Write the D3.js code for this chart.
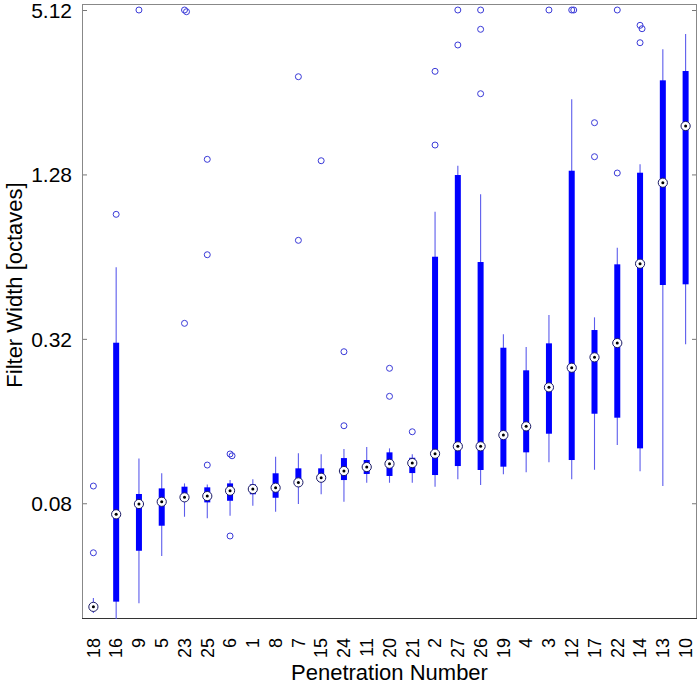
<!DOCTYPE html>
<html>
<head>
<meta charset="utf-8">
<script src="https://cdnjs.cloudflare.com/ajax/libs/d3/7.8.5/d3.min.js"></script>
<style>
    body { margin: 0; background: #fff; }
    svg { display: block; font-family: "Liberation Sans", Arial, sans-serif; }
</style>
</head>
<body>
<div id="svg_div"><svg width="700" height="685"></svg></div>
<script>
// Penetration numbers, in plotted order
var labels = ["18","16","9","5","23","25","6","1","8","7","15","24","11","20","21","2","27","26","19","4","3","12","17","22","14","13","10"];

// Box statistics (filter width, octaves)
var whiskerLo = [0.0317,0.028,0.0344,0.0513,0.0714,0.0705,0.0720,0.0784,0.0745,0.0795,0.0863,0.0810,0.0951,0.0951,0.0951,0.0920,0.0979,0.0933,0.1021,0.1038,0.1130,0.0979,0.1061,0.1307,0.1047,0.0925,0.3055];
var q1 = [0.0328,0.0349,0.0536,0.0662,0.0822,0.0806,0.0817,0.0863,0.0838,0.0925,0.0959,0.0973,0.1024,0.1007,0.1032,0.1015,0.1095,0.1059,0.1089,0.1229,0.1438,0.1152,0.1702,0.1646,0.1271,0.5038,0.5068];
var medians = [0.0334,0.0729,0.0795,0.0810,0.0841,0.0850,0.0889,0.0902,0.0912,0.0954,0.0992,0.1050,0.1086,0.1116,0.1123,0.1215,0.1293,0.1293,0.1422,0.1530,0.2126,0.2508,0.2738,0.3089,0.6029,1.1936,1.9252];
var q3 = [0.0342,0.3097,0.0865,0.0907,0.0920,0.0915,0.0946,0.0938,0.1030,0.1074,0.1074,0.1171,0.1152,0.1229,0.1174,0.6395,1.2736,0.6116,0.2969,0.2454,0.3081,1.3207,0.3447,0.5998,1.2985,2.830,3.061];
var whiskerHi = [0.0360,0.5848,0.1168,0.1030,0.0946,0.0938,0.0973,0.0979,0.1184,0.1219,0.1209,0.1264,0.1285,0.1271,0.1209,0.9347,1.3775,1.0824,0.3324,0.2987,0.3912,2.411,0.3836,0.6899,1.3938,3.676,4.182];
var outliers = [
    [0.0925,0.0527], [0.9143], [5.12], [], [0.3647,5.12,5.047], [0.1104,1.4539,0.6504],
    [0.1212,0.1194,0.0607], [], [], [2.917,0.7344], [1.4368], [0.2871,0.1538], [],
    [0.2496,0.1971], [0.1462], [1.640,3.053], [5.12,3.812], [5.12,4.351,2.528], [], [],
    [5.12], [5.12,5.12], [1.9796,1.4861], [5.12,1.2953], [4.373,4.50,3.886], [], []
];

// Axis ticks
var yTicks = [0.08, 0.32, 1.28, 5.12];
var yTickLabels = ["0.08", "0.32", "1.28", "5.12"];
var yDomain = [0.03015, 5.386];

var svg = d3.select("#svg_div").select("svg");
var margin = {top:4, left:82, bottom:66, right:3};
var svgWidth = +svg.attr("width");
var svgHeight = +svg.attr("height");
var width = svgWidth - margin.left - margin.right;
var height = svgHeight - margin.top - margin.bottom;

var data = labels.map(function(l, i) {
    return {label:l, lo:whiskerLo[i], q1:q1[i], med:medians[i], q3:q3[i], hi:whiskerHi[i], out:outliers[i]};
});

var xScale = d3.scaleBand()
    .domain(labels)
    .range([0, width]);

var yScale = d3.scaleLog()
    .base(2)
    .domain(yDomain)
    .range([height, 0]);

var g = svg.append("g")
    .attr("transform", "translate(" + [margin.left, margin.top] + ")");

g.append("clipPath").attr("id", "plotclip")
    .append("rect")
    .attr("width", width)
    .attr("height", height);

// Y axis (ticks inside, both sides)
var yAxis = d3.axisLeft(yScale).tickValues(yTicks).tickSize(-5).tickPadding(10)
    .tickFormat(function(d, i) { return yTickLabels[i]; });
var yAxisG = g.append("g").attr("class", "y axis").call(yAxis);
yAxisG.select(".domain").remove();
yAxisG.selectAll("line").attr("stroke", "#777");
yAxisG.selectAll("text").attr("fill", "#000").style("font-size", "21px")
    .attr("font-family", null).attr("dy", "0.36em");

var yAxisR = d3.axisRight(yScale).tickValues(yTicks).tickSize(-5).tickFormat("");
var yAxisRG = g.append("g").attr("transform", "translate(" + width + ",0)").call(yAxisR);
yAxisRG.select(".domain").remove();
yAxisRG.selectAll("line").attr("stroke", "#777");

// X axis labels, rotated
var xAxis = d3.axisBottom(xScale).tickSize(0).tickPadding(0);
var xAxisG = g.append("g").attr("class", "x axis")
    .attr("transform", "translate(0," + height + ")")
    .call(xAxis);
xAxisG.select(".domain").remove();
xAxisG.selectAll("text")
    .attr("fill", "#000")
    .attr("font-family", null)
    .style("font-size", "18px")
    .attr("text-anchor", "end")
    .attr("transform", "translate(0,19) rotate(-90)")
    .attr("x", 0)
    .attr("y", 0)
    .attr("dy", "0.35em");

// Frame
g.append("rect")
    .attr("x", 0.5).attr("y", 0.5)
    .attr("width", width - 1).attr("height", height - 1)
    .attr("fill", "none")
    .attr("stroke", "#888");
g.append("line")
    .attr("x1", 0).attr("x2", width)
    .attr("y1", height - 0.5).attr("y2", height - 0.5)
    .attr("stroke", "#333");

// Boxes
var boxes = g.append("g").attr("clip-path", "url(#plotclip)")
    .selectAll(".box")
    .data(data)
    .enter()
    .append("g")
    .attr("class", "box")
    .attr("transform", function(d) {
        return "translate(" + (xScale(d.label) + xScale.bandwidth() / 2) + ",0)";
    });

boxes.append("line")
    .attr("y1", function(d) { return yScale(d.lo); })
    .attr("y2", function(d) { return yScale(d.hi); })
    .attr("stroke", "#5c5cec")
    .attr("stroke-width", 1.1);

boxes.append("rect")
    .attr("x", -3)
    .attr("width", 6)
    .attr("y", function(d) { return yScale(d.q3); })
    .attr("height", function(d) { return yScale(d.q1) - yScale(d.q3); })
    .attr("fill", "#0000ff");

boxes.append("circle")
    .attr("cy", function(d) { return yScale(d.med); })
    .attr("r", 4.6)
    .attr("fill", "#fff")
    .attr("stroke", "#1a1a66")
    .attr("stroke-width", 1);

boxes.append("circle")
    .attr("cy", function(d) { return yScale(d.med); })
    .attr("r", 1.5)
    .attr("fill", "#000");

// Outliers, nudged sideways when they overlap
boxes.each(function(d) {
    var pts = d.out.slice().sort(d3.descending);
    var prevY = null;
    var shift = 0;
    var sel = d3.select(this);
    pts.forEach(function(v) {
        var cy = yScale(v);
        if (prevY !== null && Math.abs(cy - prevY) < 6) {
            shift = shift === 0 ? 4 : 0;
        } else {
            shift = 0;
        }
        sel.append("circle")
            .attr("cx", shift - (shift ? 2 : 0))
            .attr("cy", cy)
            .attr("r", 3)
            .attr("fill", "none")
            .attr("stroke", "#3a3ad8")
            .attr("stroke-width", 1);
        prevY = cy;
    });
});

// Axis titles
svg.append("text")
    .attr("transform", "translate(22," + 285 + ") rotate(-90)")
    .attr("text-anchor", "middle")
    .style("font-size", "22px")
    .text("Filter Width [octaves]");

svg.append("text")
    .attr("x", margin.left + width / 2)
    .attr("y", 680)
    .attr("text-anchor", "middle")
    .style("font-size", "22px")
    .text("Penetration Number");
</script>
</body>
</html>
